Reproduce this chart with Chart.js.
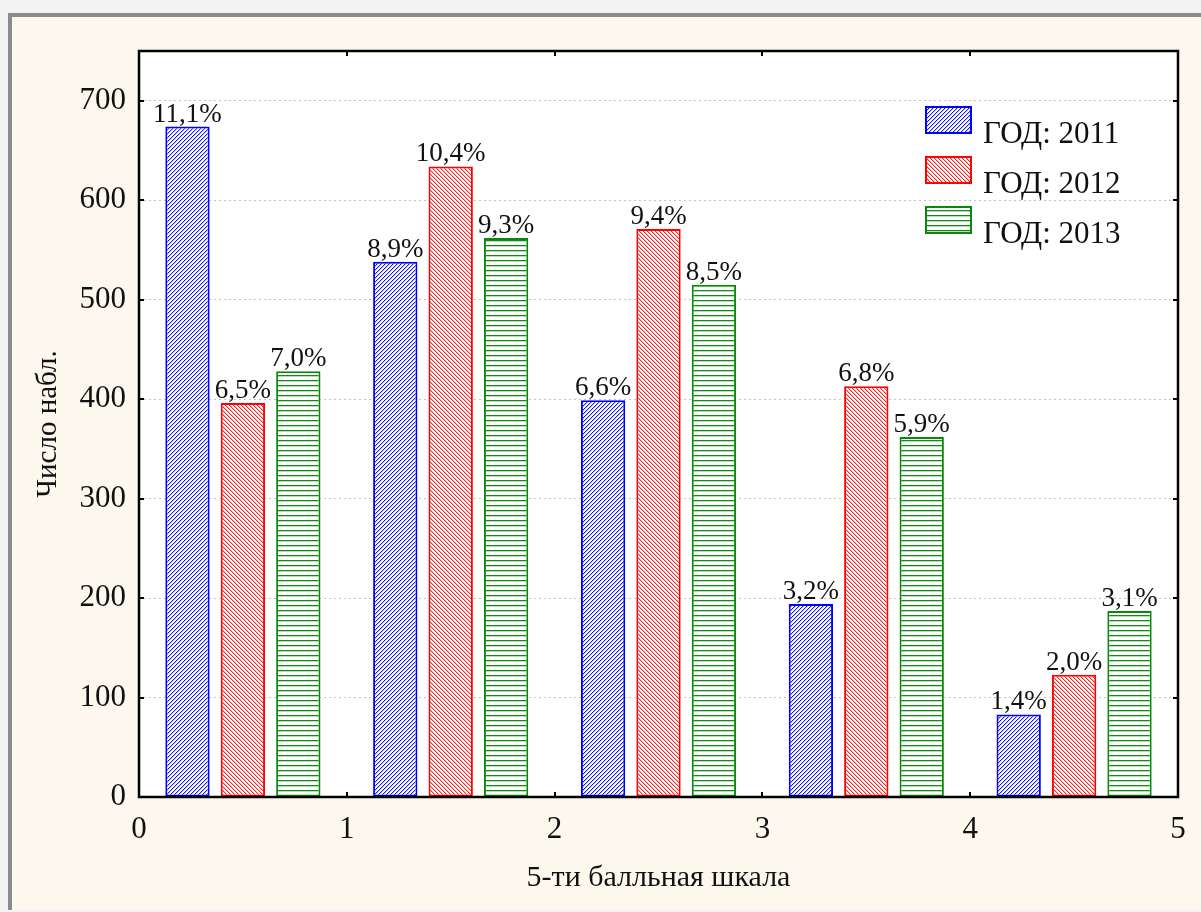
<!DOCTYPE html>
<html>
<head>
<meta charset="utf-8">
<script src="https://cdn.jsdelivr.net/npm/chart.js@4"></script>
<style>
  html, body { margin: 0; padding: 0; background: #f4f4f4; }
  #frame { position: absolute; left: 8px; top: 13px; width: 1189px; height: 893px;
           border-left: 4px solid #8c8c8c; border-top: 4px solid #8c8c8c; background: #fcf8ee; }
  #chart { position: absolute; left: 0; top: 0; }
</style>
</head>
<body>
<div id="frame"></div>
<canvas id="chart" width="1201" height="912"></canvas>
<script>
// groups on the 5-point scale (each bar group sits inside one unit interval)
const categories = ['0-1', '1-2', '2-3', '3-4', '4-5'];
const seriesNames = ['ГОД: 2011', 'ГОД: 2012', 'ГОД: 2013'];

// number of observations
const values2011 = [674, 538, 399, 194, 83];
const values2012 = [396, 634, 571, 413, 123];
const values2013 = [428, 562, 515, 362, 187];

// percent labels above the bars
const pct2011 = ['11,1%', '8,9%', '6,6%', '3,2%', '1,4%'];
const pct2012 = ['6,5%', '10,4%', '9,4%', '6,8%', '2,0%'];
const pct2013 = ['7,0%', '9,3%', '8,5%', '5,9%', '3,1%'];

const yTitle = 'Число набл.';
const xTitle = '5-ти балльная шкала';

const SERIF = "'Liberation Serif', 'Times New Roman', serif";

// pixel hatch brushes: pick(x, y) -> 0 white, 1 light, 2 full colour
function makePattern(size, pick, full, light) {
  const c = document.createElement('canvas');
  c.width = size; c.height = size;
  const g = c.getContext('2d');
  for (let y = 0; y < size; y++) {
    for (let x = 0; x < size; x++) {
      const k = pick(x, y);
      g.fillStyle = k === 2 ? full : (k === 1 ? light : '#ffffff');
      g.fillRect(x, y, 1, 1);
    }
  }
  return document.getElementById('chart').getContext('2d').createPattern(c, 'repeat');
}

const blue = '#0000ff', red = '#ff0000', green = '#0a880a';
const pats = [
  makePattern(4, (x, y) => { const m = (x + y) % 4; return m === 0 ? 2 : (m === 1 ? 1 : 0); }, '#1a1aff', '#b4b4ff'),
  makePattern(4, (x, y) => { const m = (x - y + 8) % 4; return m === 0 ? 2 : (m === 1 ? 1 : 0); }, '#ff2020', '#ffb4b4'),
  makePattern(5, (x, y) => (y === 0 ? 2 : (y === 1 ? 1 : 0)), '#138a13', '#b8dcb8')
];
const lineColors = [blue, red, green];
const pctLabels = [pct2011, pct2012, pct2013];

// white plot area, frame, inward tick marks, percent labels, legend
const decor = {
  id: 'decor',
  beforeDraw(chart) {
    const a = chart.chartArea, ctx = chart.ctx;
    ctx.save();
    ctx.fillStyle = '#fff';
    ctx.fillRect(a.left, a.top, a.right - a.left, a.bottom - a.top);
    ctx.restore();
  },
  afterDraw(chart) {
    const a = chart.chartArea, ctx = chart.ctx;
    ctx.save();
    // tick marks
    ctx.strokeStyle = '#000';
    ctx.lineWidth = 2;
    ctx.beginPath();
    chart.scales.y.ticks.forEach(t => {
      const py = Math.round(chart.scales.y.getPixelForValue(t.value));
      ctx.moveTo(a.left, py); ctx.lineTo(a.left + 5, py);
      ctx.moveTo(a.right, py); ctx.lineTo(a.right - 5, py);
    });
    chart.scales.x2.ticks.forEach(t => {
      const px = Math.round(chart.scales.x2.getPixelForValue(t.value));
      ctx.moveTo(px, a.bottom); ctx.lineTo(px, a.bottom - 5);
      ctx.moveTo(px, a.top); ctx.lineTo(px, a.top + 5);
    });
    ctx.stroke();
    // frame
    ctx.lineWidth = 2.5;
    ctx.strokeRect(a.left, a.top, a.right - a.left, a.bottom - a.top);

    // percent labels
    ctx.fillStyle = '#111';
    ctx.font = '27px ' + SERIF;
    ctx.textAlign = 'center';
    ctx.textBaseline = 'alphabetic';
    chart.data.datasets.forEach((ds, di) => {
      chart.getDatasetMeta(di).data.forEach((bar, i) => {
        ctx.fillText(pctLabels[di][i], bar.x, bar.y - 5);
      });
    });

    // legend
    ctx.textAlign = 'left';
    ctx.font = '31px ' + SERIF;
    chart.data.datasets.forEach((ds, di) => {
      const bx = a.right - 252, by = a.top + 56 + di * 50;
      ctx.fillStyle = ds.backgroundColor;
      ctx.fillRect(bx, by, 45, 26);
      ctx.strokeStyle = ds.borderColor;
      ctx.lineWidth = 2;
      ctx.strokeRect(bx, by, 45, 26);
      ctx.fillStyle = '#111';
      ctx.fillText(ds.label, bx + 57, by + 36);
    });
    ctx.restore();
  }
};

new Chart(document.getElementById('chart'), {
  type: 'bar',
  data: {
    labels: categories,
    datasets: [values2011, values2012, values2013].map((v, i) => ({
      label: seriesNames[i],
      data: v,
      backgroundColor: pats[i],
      borderColor: lineColors[i],
      borderWidth: 2,
      borderSkipped: false,
      categoryPercentage: 0.8,
      barPercentage: 0.8
    }))
  },
  options: {
    responsive: false,
    animation: false,
    devicePixelRatio: 1,
    layout: { padding: { left: 0, top: 51, right: 23, bottom: 0 } },
    plugins: { legend: { display: false }, tooltip: { enabled: false } },
    scales: {
      x: { type: 'category', display: false },
      x2: {
        type: 'linear', position: 'bottom', min: 0, max: 5, offset: false,
        grid: { display: false, drawTicks: false, offset: false },
        border: { display: false },
        ticks: { stepSize: 1, padding: 14, color: '#111', font: { family: SERIF, size: 31 } },
        title: { display: true, text: xTitle, color: '#111', font: { family: SERIF, size: 30 }, padding: { bottom: 16 } },
        afterFit(s) { s.height = 115; }
      },
      y: {
        min: 0, max: 750,
        grid: { color: '#c4c4c4', lineWidth: 1, drawTicks: false },
        border: { display: false, dash: [2, 3] },
        ticks: { stepSize: 100, includeBounds: false, padding: 13, color: '#111', font: { family: SERIF, size: 31 } },
        title: { display: true, text: yTitle, color: '#111', font: { family: SERIF, size: 29 }, padding: { top: 31 } },
        afterFit(s) { s.width = 139; }
      }
    }
  },
  plugins: [decor]
});
</script>
</body>
</html>
